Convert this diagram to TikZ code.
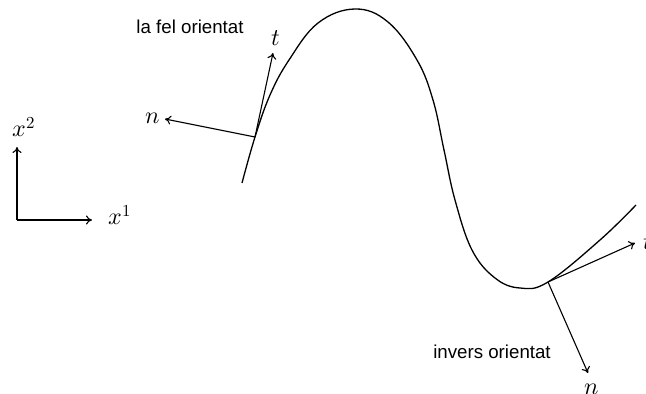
\documentclass[tikz,border=0pt]{standalone}
\usepackage{fontspec}
\usepackage{unicode-math}
\setmainfont{Liberation Sans}
\setmathfont{Latin Modern Math}
\usetikzlibrary{arrows.meta}
\begin{document}
\begin{tikzpicture}[x=1pt,y=-1pt,
  vec/.style={line width=1.1pt,-{To[length=6pt,width=9pt]}},
  curve/.style={line width=1.3pt},
  lbl/.style={inner sep=0pt,font=\fontsize{18.7}{22}\selectfont},
  mlbl/.style={inner sep=0pt,font=\fontsize{24}{28}\selectfont}]
\useasboundingbox (0,0) rectangle (646,394);
% axes
\coordinate (O) at (17,220);
\coordinate (X1) at (92,220);
\coordinate (X2) at (17,147);
\draw[vec] (O) -- (X1);
\draw[vec] (O) -- (X2);
\node[mlbl] (lx1) at (120,215) {$x^1$};
\node[mlbl] (lx2) at (24,127) {$x^2$};
% curve
\draw[curve] plot[smooth,tension=0.65] coordinates {(242,183) (255,137) (270,95) (289,60) (318,23) (355,9) (388,22) (417,60) (433,100) (444,150) (455,200) (472,250) (495,278) (520,288) (548,282) (600,240) (636,205)};
% left frame
\coordinate (P) at (255,137);
\coordinate (Pt) at (273,53);
\coordinate (Pn) at (165,119);
\draw[vec] (P) -- (Pt);
\draw[vec] (P) -- (Pn);
\node[mlbl] (lt1) at (276,38) {$t$};
\node[mlbl] (ln1) at (153,118) {$n$};
\node[lbl] (lab1) at (190,27) {la fel orientat};
% right frame
\coordinate (Q) at (548,282);
\coordinate (Qt) at (635,243);
\coordinate (Qn) at (588,373);
\draw[vec] (Q) -- (Qt);
\draw[vec] (Q) -- (Qn);
\node[mlbl] (lt2) at (648,242) {$t$};
\node[mlbl] (ln2) at (592,389) {$n$};
\node[lbl] (lab2) at (492,352) {invers orientat};
\end{tikzpicture}
\end{document}
